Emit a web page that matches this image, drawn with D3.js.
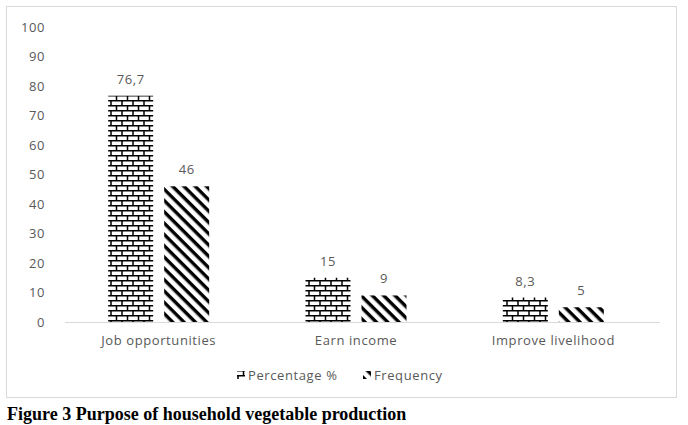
<!DOCTYPE html>
<html>
<head>
<meta charset="utf-8">
<script src="https://cdn.jsdelivr.net/npm/d3@7"></script>
<style>
  body { margin: 0; background: #fff; }
  svg { display: block; }
</style>
</head>
<body>
<svg id="chart" width="688" height="425"></svg>
<script>
// Purpose of household vegetable production
const categories = ["Job opportunities", "Earn income", "Improve livelihood"];
const seriesNames = ["Percentage %", "Frequency"];
const percentage = [76.7, 15, 8.3];
const frequency = [46, 9, 5];
const percentLabels = ["76,7", "15", "8,3"];
const frequencyLabels = ["46", "9", "5"];
const yTicks = [0, 10, 20, 30, 40, 50, 60, 70, 80, 90, 100];

const svg = d3.select("#chart");
const textColor = "#595959";
const font = "'Open Sans', 'Noto Sans', sans-serif";
const spacing = "0.6px";

// ── patterns ──────────────────────────────────────────
const defs = svg.append("defs");
const brick = defs.append("pattern")
  .attr("id", "brick").attr("patternUnits", "userSpaceOnUse")
  .attr("width", 11).attr("height", 10);
brick.append("rect").attr("width", 11).attr("height", 10).attr("fill", "#fff");
brick.append("path")
  .attr("d", "M0,0.75H11M0,5.75H11M1,0V5M6.5,5V10")
  .attr("stroke", "#000").attr("stroke-width", 1.5).attr("fill", "none");

const diag = defs.append("pattern")
  .attr("id", "diag").attr("patternUnits", "userSpaceOnUse")
  .attr("width", 8).attr("height", 8)
  .attr("patternTransform", "rotate(45)");
diag.append("rect").attr("width", 8).attr("height", 8).attr("fill", "#fff");
diag.append("rect").attr("x", 0).attr("y", 0).attr("width", 8).attr("height", 3.4).attr("fill", "#000");

const fills = ["url(#brick)", "url(#diag)"];

// ── frame ─────────────────────────────────────────────
svg.append("rect")
  .attr("x", 6.5).attr("y", 6.5).attr("width", 670).attr("height", 391)
  .attr("fill", "#fff").attr("stroke", "#d9d9d9").attr("stroke-width", 1);

// ── scales ────────────────────────────────────────────
const plot = { left: 60, right: 652, top: 27, bottom: 322 };
const x = d3.scaleBand().domain(categories).range([plot.left, plot.right]).paddingInner(0).paddingOuter(0);
const y = d3.scaleLinear().domain([0, 100]).range([plot.bottom, plot.top]);
const barW = 45, gap = 11;

// y axis labels
const yAxis = svg.append("g")
  .attr("transform", `translate(${plot.left - 15},0)`)
  .call(d3.axisLeft(y).tickValues(yTicks).tickSize(0).tickPadding(0));
yAxis.select(".domain").remove();
yAxis.selectAll("text")
  .attr("fill", textColor).attr("font-size", 13).attr("font-family", font)
  .style("letter-spacing", spacing);

// baseline
svg.append("line")
  .attr("x1", plot.left + 5).attr("x2", plot.right + 8)
  .attr("y1", y(0) + 0.5).attr("y2", y(0) + 0.5)
  .attr("stroke", "#d9d9d9").attr("stroke-width", 1);

// ── bars ──────────────────────────────────────────────
const series = [percentage, frequency];
const labels = [percentLabels, frequencyLabels];
series.forEach((vals, si) => {
  const bx = (c) => x(c) + x.bandwidth() / 2 + (si === 0 ? -(barW + gap / 2) : gap / 2);
  svg.append("g").selectAll("rect")
    .data(categories).enter().append("rect")
    .attr("x", bx)
    .attr("y", (c, i) => y(vals[i]))
    .attr("width", barW)
    .attr("height", (c, i) => y(0) - y(vals[i]))
    .attr("fill", fills[si]);
  svg.append("g").selectAll("text")
    .data(categories).enter().append("text")
    .attr("x", c => bx(c) + barW / 2)
    .attr("y", (c, i) => y(vals[i]) - 12)
    .attr("text-anchor", "middle")
    .attr("fill", textColor).attr("font-size", 13).attr("font-family", font)
    .style("letter-spacing", spacing)
    .text((c, i) => labels[si][i]);
});

// category labels
const xAxis = svg.append("g")
  .attr("transform", `translate(0,${y(0)})`)
  .call(d3.axisBottom(x).tickSize(0).tickPadding(14));
xAxis.select(".domain").remove();
xAxis.selectAll("text")
  .attr("fill", textColor).attr("font-size", 13).attr("font-family", font)
  .style("letter-spacing", spacing);

// ── legend ────────────────────────────────────────────
const legend = svg.append("g").attr("transform", "translate(237,375)");
const legendX = [0, 126];
seriesNames.forEach((name, i) => {
  const g = legend.append("g").attr("transform", `translate(${legendX[i]},0)`);
  g.append("rect").attr("x", 0).attr("y", -4).attr("width", 8).attr("height", 8).attr("fill", fills[i]);
  g.append("text").attr("x", 11).attr("y", 0).attr("dy", "0.35em")
    .attr("fill", textColor).attr("font-size", 13).attr("font-family", font)
    .style("letter-spacing", spacing)
    .text(name);
});

// ── caption ───────────────────────────────────────────
svg.append("text")
  .attr("x", 7).attr("y", 420)
  .attr("font-family", "'Liberation Serif', 'Times New Roman', serif")
  .attr("font-weight", "bold").attr("font-size", 18).attr("fill", "#000")
  .text("Figure 3 Purpose of household vegetable production");
</script>
</body>
</html>
